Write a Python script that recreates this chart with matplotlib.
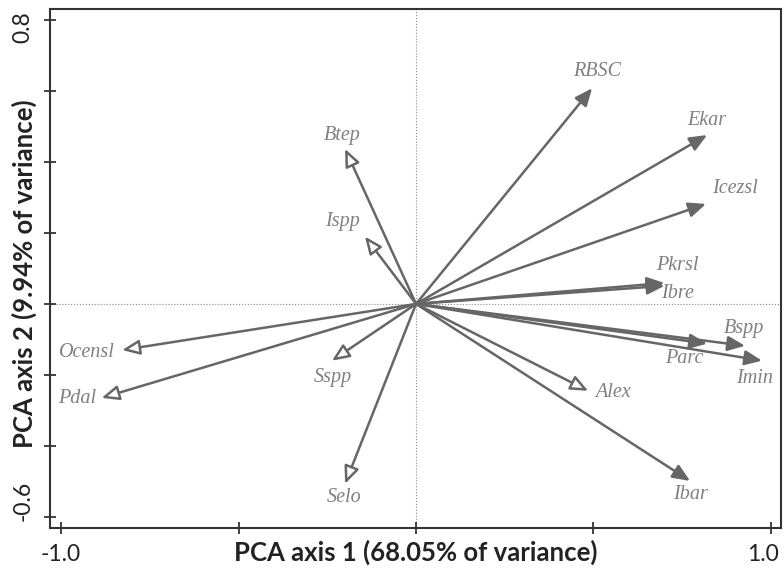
import matplotlib.pyplot as plt
import matplotlib.transforms as mtrans

# PCA loadings (axis 1, axis 2)
names = ['RBSC', 'Ekar', 'Icezsl', 'Pkrsl', 'Ibre', 'Bspp', 'Parc', 'Imin',
         'Alex', 'Ibar', 'Selo', 'Sspp', 'Ocensl', 'Pdal', 'Ispp', 'Btep']
pc1 = [0.496, 0.82, 0.817, 0.70, 0.70, 0.927, 0.82, 0.975,
       0.485, 0.772, -0.20, -0.237, -0.828, -0.886, -0.144, -0.20]
pc2 = [0.608, 0.476, 0.282, 0.059, 0.051, -0.118, -0.112, -0.16,
       -0.245, -0.499, -0.507, -0.16, -0.13, -0.265, 0.19, 0.437]
filled = [True, True, True, True, True, True, True, True,
          False, True, False, False, False, False, False, False]
# label positions
lab_x = [0.51, 0.82, 0.90, 0.735, 0.738, 0.924, 0.755, 0.955,
         0.555, 0.772, -0.203, -0.234, -0.927, -0.955, -0.206, -0.208]
lab_y = [0.656, 0.516, 0.324, 0.107, 0.028, -0.07, -0.155, -0.211,
         -0.25, -0.538, -0.546, -0.208, -0.138, -0.268, 0.231, 0.476]

fig = plt.figure(figsize=(7.84, 5.73), dpi=100)
ax = fig.add_axes([0.064, 0.079, 0.932, 0.905])

ax.axhline(0, color='#888888', lw=0.8, ls=':', zorder=0)
ax.axvline(0, color='#888888', lw=0.8, ls=':', zorder=0)

grey = '#666666'
for i in range(len(names)):
    fc = grey if filled[i] else 'white'
    ax.annotate('', xy=(pc1[i], pc2[i]), xytext=(0, 0),
                arrowprops=dict(arrowstyle='-|>,head_length=1.05,head_width=0.45',
                                lw=1.8, ec=grey, fc=fc, shrinkA=0, shrinkB=0))
    ax.text(lab_x[i], lab_y[i], names[i], ha='center', va='center',
            fontsize=14.5, style='italic', family='Liberation Serif', color='#808080')

ax.set_xlim(-1.031, 1.028)
ax.set_ylim(-0.631, 0.831)
ax.set_xticks([-1.0, -0.5, 0.0, 0.5, 1.0])
ax.set_xticklabels(['-1.0', '', '', '', '1.0'])
ax.set_yticks([-0.6, -0.4, -0.2, 0.0, 0.2, 0.4, 0.6, 0.8])
ax.set_yticklabels(['-0.6', '', '', '', '', '', '', '0.8'], rotation=90, va='center')
ax.tick_params(direction='inout', length=8, width=1.2, labelsize=16.5, colors='#222222', pad=8)
for lab in ax.get_xticklabels() + ax.get_yticklabels():
    lab.set_family('Lato')

# nudge end labels like in the original
xl = ax.get_xticklabels()
xl[-1].set_transform(xl[-1].get_transform() + mtrans.ScaledTranslation(-0.08, 0, fig.dpi_scale_trans))
yl = ax.get_yticklabels()
yl[0].set_transform(yl[0].get_transform() + mtrans.ScaledTranslation(0, 0.16, fig.dpi_scale_trans))
yl[-1].set_transform(yl[-1].get_transform() + mtrans.ScaledTranslation(0, -0.07, fig.dpi_scale_trans))

for s in ax.spines.values():
    s.set_linewidth(1.5)
    s.set_color('#333333')

ax.set_xlabel('PCA axis 1 (68.05% of variance)', fontsize=18.5, fontweight='bold',
              family='Lato', va='center', color='#222222')
ax.set_ylabel('PCA axis 2 (9.94% of variance)', fontsize=18.5, fontweight='bold',
              family='Lato', va='center', color='#222222')
ax.xaxis.set_label_coords(0.5, -0.048)
ax.yaxis.set_label_coords(-0.036, 0.49)

fig.savefig('out.png', dpi=100)
